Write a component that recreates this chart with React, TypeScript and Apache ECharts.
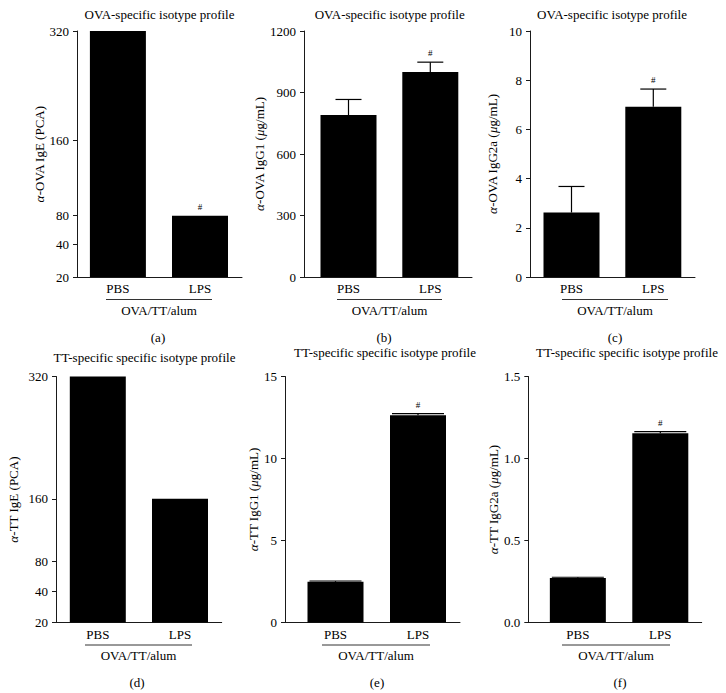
import React, { useEffect, useRef } from 'react';
import * as echarts from 'echarts';

// ---------------- data ----------------
const groups = ['PBS', 'LPS'];
const groupLabel = 'OVA/TT/alum';

// (a) OVA IgE (PCA titre)
const ovaIgE = [320, 80];
const ovaIgESig = [false, true];
const igeTicks = [20, 40, 80, 160, 320];
// (b) OVA IgG1
const ovaIgG1 = [790, 1000];
const ovaIgG1Err = [866, 1048];
const ovaIgG1Sig = [false, true];
// (c) OVA IgG2a
const ovaIgG2a = [2.62, 6.92];
const ovaIgG2aErr = [3.68, 7.64];
const ovaIgG2aSig = [false, true];
// (d) TT IgE (PCA titre)
const ttIgE = [320, 160];
const ttIgESig = [false, false];
// (e) TT IgG1
const ttIgG1 = [2.48, 12.64];
const ttIgG1Err = [2.53, 12.74];
const ttIgG1Sig = [false, true];
// (f) TT IgG2a
const ttIgG2a = [0.272, 1.154];
const ttIgG2aErr = [0.276, 1.164];
const ttIgG2aSig = [false, true];

// axis shape of the titre axes (relative position of each tick, bottom = 0, top = 1)
const igeTickPosA = [0, 0.133, 0.249, 0.556, 1];
const igeTickPosD = [0, 0.127, 0.25, 0.503, 1];

const FONT = 'Liberation Serif';

function mapTitre(v: number, ticks: number[], pos: number[]) {
  for (let i = 0; i < ticks.length - 1; i++) {
    if (v <= ticks[i + 1]) {
      const t = (v - ticks[i]) / (ticks[i + 1] - ticks[i]);
      return pos[i] + t * (pos[i + 1] - pos[i]);
    }
  }
  return pos[pos.length - 1];
}

type Panel = {
  letter: string;
  title: string;
  titleX: number;
  titleY: number;
  yName: string;
  values: number[];
  errs: number[] | null;
  sig: boolean[];
  titre?: number[];
  yMax?: number;
  yInterval?: number;
  yDecimals?: number;
  left: number;
  right: number;
  c0: number;
  c1: number;
  top: number;
  nameGap: number;
  capW: number;
  lineX1: number;
  lineX2: number;
  letterX: number;
};

const TOP1 = 31;
const TOP2 = 376.5;
const H = 246;

const panels: Panel[] = [
  {
    letter: '(a)', title: 'OVA-specific isotype profile', titleX: 159.5, titleY: 14,
    yName: '{g|α}-OVA IgE (PCA)', values: ovaIgE, errs: null, sig: ovaIgESig, titre: igeTickPosA,
    left: 77, right: 242, c0: 117.9, c1: 200, top: TOP1, nameGap: 28, capW: 26,
    lineX1: 106, lineX2: 212, letterX: 158,
  },
  {
    letter: '(b)', title: 'OVA-specific isotype profile', titleX: 389.7, titleY: 14,
    yName: '{g|α}-OVA IgG1 ({g|μ}g/mL)', values: ovaIgG1, errs: ovaIgG1Err, sig: ovaIgG1Sig,
    yMax: 1200, yInterval: 300, yDecimals: 0,
    left: 304, right: 472, c0: 348.5, c1: 430.3, top: TOP1, nameGap: 33, capW: 26,
    lineX1: 337, lineX2: 442, letterX: 384,
  },
  {
    letter: '(c)', title: 'OVA-specific isotype profile', titleX: 612, titleY: 14,
    yName: '{g|α}-OVA IgG2a ({g|μ}g/mL)', values: ovaIgG2a, errs: ovaIgG2aErr, sig: ovaIgG2aSig,
    yMax: 10, yInterval: 2, yDecimals: 0,
    left: 530, right: 695, c0: 571.5, c1: 653.3, top: TOP1, nameGap: 31.5, capW: 26,
    lineX1: 562, lineX2: 668, letterX: 615,
  },
  {
    letter: '(d)', title: 'TT-specific specific isotype profile', titleX: 144.5, titleY: 357,
    yName: '{g|α}-TT IgE (PCA)', values: ttIgE, errs: null, sig: ttIgESig, titre: igeTickPosD,
    left: 56, right: 221.7, c0: 97.8, c1: 180, top: TOP2, nameGap: 36, capW: 26,
    lineX1: 85, lineX2: 192, letterX: 137,
  },
  {
    letter: '(e)', title: 'TT-specific specific isotype profile', titleX: 385, titleY: 352,
    yName: '{g|α}-TT IgG1 ({g|μ}g/mL)', values: ttIgG1, errs: ttIgG1Err, sig: ttIgG1Sig,
    yMax: 15, yInterval: 5, yDecimals: 0,
    left: 285, right: 460, c0: 335.5, c1: 418, top: TOP2, nameGap: 23.5, capW: 52,
    lineX1: 322, lineX2: 430, letterX: 377,
  },
  {
    letter: '(f)', title: 'TT-specific specific isotype profile', titleX: 627, titleY: 352,
    yName: '{g|α}-TT IgG2a ({g|μ}g/mL)', values: ttIgG2a, errs: ttIgG2aErr, sig: ttIgG2aSig,
    yMax: 1.5, yInterval: 0.5, yDecimals: 1,
    left: 528.3, right: 701.7, c0: 577.85, c1: 660.3, top: TOP2, nameGap: 27, capW: 52,
    lineX1: 562, lineX2: 670, letterX: 620,
  },
];

function buildOption() {
  const grid: any[] = [];
  const xAxis: any[] = [];
  const yAxis: any[] = [];
  const series: any[] = [];
  const graphic: any[] = [];
  const axisColor = '#1a1a1a';

  panels.forEach((p, i) => {
    const step = p.c1 - p.c0;
    const xMin = -(p.c0 - p.left) / step;
    const xMax = 1 + (p.right - p.c1) / step;
    grid.push({ left: p.left, top: p.top, width: p.right - p.left, height: H, containLabel: false });
    xAxis.push({
      type: 'value', gridIndex: i, min: xMin, max: xMax,
      splitLine: { show: false },
      axisTick: { show: false },
      axisLine: { show: true, onZero: false, lineStyle: { color: axisColor, width: 1 } },
      axisLabel: {
        customValues: [0, 1],
        formatter: (v: number) => groups[Math.round(v)] ?? '',
        margin: 5, fontFamily: FONT, fontSize: 13, color: '#000',
      },
    });

    const nameCfg = {
      name: p.yName,
      nameLocation: 'middle',
      nameRotate: 90,
      nameGap: p.nameGap,
      nameTextStyle: {
        fontFamily: FONT, fontSize: 13, color: '#000',
        rich: { g: { fontFamily: FONT, fontSize: 13, fontStyle: 'italic', color: '#000' } },
      },
    };
    const common = {
      gridIndex: i,
      splitLine: { show: false },
      axisLine: { show: true, onZero: false, lineStyle: { color: axisColor, width: 1 } },
      axisTick: { show: true, length: 4, inside: false, lineStyle: { color: axisColor } },
    };

    let plotVals: number[];
    let plotErrs: number[];
    if (p.titre) {
      const pos = p.titre;
      plotVals = p.values.map((v) => mapTitre(v, igeTicks, pos));
      plotErrs = plotVals.slice();
      yAxis.push({
        type: 'value', min: 0, max: 1, ...common, ...nameCfg,
        axisTick: { ...common.axisTick, customValues: pos },
        axisLabel: {
          customValues: pos,
          formatter: (v: number) => {
            let best = 0;
            pos.forEach((q, k) => { if (Math.abs(q - v) < Math.abs(pos[best] - v)) best = k; });
            return String(igeTicks[best]);
          },
          margin: 8, fontFamily: FONT, fontSize: 13, color: '#000',
        },
      });
    } else {
      plotVals = p.values;
      plotErrs = p.errs ? p.errs : p.values;
      yAxis.push({
        type: 'value', min: 0, max: p.yMax, interval: p.yInterval, ...common, ...nameCfg,
        axisLabel: {
          formatter: (v: number) => v.toFixed(p.yDecimals ?? 0),
          margin: 8, fontFamily: FONT, fontSize: 13, color: '#000',
        },
      });
    }

    series.push({
      type: 'bar', xAxisIndex: i, yAxisIndex: i, barWidth: 56,
      itemStyle: { color: '#000' },
      data: plotVals.map((v, k) => [k, v]),
    });

    const capW = p.capW;
    series.push({
      type: 'custom', xAxisIndex: i, yAxisIndex: i, z: 5, clip: false,
      data: plotVals.map((v, k) => [k, v, plotErrs[k], p.sig[k] ? 1 : 0]),
      renderItem: (params: any, api: any) => {
        const x = api.value(0);
        const v = api.value(1);
        const e = api.value(2);
        const s = api.value(3);
        const pb = api.coord([x, v]);
        const pe = api.coord([x, e]);
        const children: any[] = [];
        if (e > v) {
          children.push({
            type: 'line',
            shape: { x1: pe[0], y1: pb[1], x2: pe[0], y2: pe[1] },
            style: { stroke: '#000', lineWidth: 1.2 },
          });
          children.push({
            type: 'line',
            shape: { x1: pe[0] - capW / 2, y1: pe[1], x2: pe[0] + capW / 2, y2: pe[1] },
            style: { stroke: '#000', lineWidth: 1.2 },
          });
        }
        if (s) {
          children.push({
            type: 'text',
            style: {
              text: '#', x: pe[0], y: pe[1] - 9, align: 'center', verticalAlign: 'middle',
              fontFamily: FONT, fontSize: 9, fill: '#000',
            },
          });
        }
        return { type: 'group', children };
      },
    });

    const rowTop = p.top;
    const lineY = rowTop + H + 22.5;
    graphic.push(
      {
        type: 'text', x: p.titleX, y: p.titleY,
        style: { text: p.title, align: 'center', verticalAlign: 'middle', fontFamily: FONT, fontSize: 13, fill: '#000' },
      },
      {
        type: 'line', shape: { x1: p.lineX1, y1: lineY, x2: p.lineX2, y2: lineY },
        style: { stroke: '#333', lineWidth: 1 },
      },
      {
        type: 'text', x: (p.lineX1 + p.lineX2) / 2, y: lineY + 10.5,
        style: { text: groupLabel, align: 'center', verticalAlign: 'middle', fontFamily: FONT, fontSize: 13, fill: '#000' },
      },
      {
        type: 'text', x: p.letterX, y: rowTop + H + 60,
        style: { text: p.letter, align: 'center', verticalAlign: 'middle', fontFamily: FONT, fontSize: 13, fill: '#000' },
      },
    );
  });

  return {
    animation: false,
    backgroundColor: '#fff',
    textStyle: { fontFamily: FONT },
    grid, xAxis, yAxis, series, graphic,
  };
}

export default function App() {
  const ref = useRef<HTMLDivElement>(null);
  useEffect(() => {
    if (!ref.current) return;
    const chart = echarts.init(ref.current, undefined, { renderer: 'svg' });
    chart.setOption(buildOption() as any);
    return () => chart.dispose();
  }, []);
  return (
    <div
      ref={ref}
      style={{ position: 'fixed', left: 0, top: 0, width: 726, height: 693, background: '#fff' }}
    />
  );
}
